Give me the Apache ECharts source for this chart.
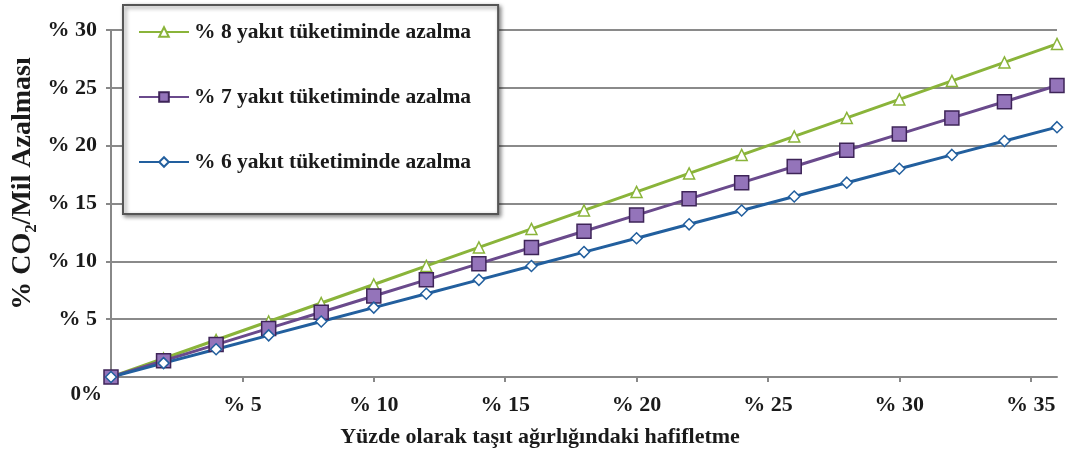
<!DOCTYPE html>
<html>
<head>
<meta charset="utf-8">
<script src="https://cdn.jsdelivr.net/npm/echarts@6/dist/echarts.min.js"></script>
<style>html,body{margin:0;padding:0;background:#fff}#c{width:1072px;height:459px}</style>
</head>
<body>
<div id="c"></div>
<script>
const xValues = [0,2,4,6,8,10,12,14,16,18,20,22,24,26,28,30,32,34,36];
const series8 = [0,1.6,3.2,4.8,6.4,8.0,9.6,11.2,12.8,14.4,16.0,17.6,19.2,20.8,22.4,24.0,25.6,27.2,28.8];
const series7 = [0,1.4,2.8,4.2,5.6,7.0,8.4,9.8,11.2,12.6,14.0,15.4,16.8,18.2,19.6,21.0,22.4,23.8,25.2];
const series6 = [0,1.2,2.4,3.6,4.8,6.0,7.2,8.4,9.6,10.8,12.0,13.2,14.4,15.6,16.8,18.0,19.2,20.4,21.6];
const seriesNames = ['% 8 yakıt tüketiminde azalma','% 7 yakıt tüketiminde azalma','% 6 yakıt tüketiminde azalma'];
const xTicks = [5,10,15,20,25,30,35];
const xTitle = 'Yüzde olarak taşıt ağırlığındaki hafifletme';
const yTitle = '% CO₂/Mil Azalması';

const font = '"Liberation Serif", "Times New Roman", serif';
const pairs = a => xValues.map((x,i)=>[x,a[i]]);

const chart = echarts.init(document.getElementById('c'));
chart.setOption({
  animation:false,
  backgroundColor:'#fff',
  grid:{left:111,right:15,top:30,bottom:82,containLabel:false},
  legend:{
    orient:'vertical', left:123, top:5,
    padding:[15,27,40,15],
    itemGap:41, itemWidth:50, itemHeight:12,
    backgroundColor:'#fff', borderColor:'#555', borderWidth:2,
    shadowColor:'rgba(0,0,0,0.45)', shadowBlur:4, shadowOffsetX:2, shadowOffsetY:2,
    textStyle:{fontFamily:font,fontWeight:'bold',fontSize:21.5,color:'#1a1a1a',lineHeight:24},
    data:seriesNames
  },
  xAxis:{
    type:'value', min:0, max:36, interval:5,
    name:xTitle, nameLocation:'middle', nameGap:49,
    nameTextStyle:{fontFamily:font,fontWeight:'bold',fontSize:22,color:'#1a1a1a',padding:[0,88,0,0]},
    axisLine:{lineStyle:{color:'#888',width:2}},
    axisTick:{show:true,length:5,lineStyle:{color:'#888',width:2},customValues:xTicks},
    axisLabel:{customValues:xTicks,margin:17,fontFamily:font,fontWeight:'bold',fontSize:22,color:'#1a1a1a',formatter:v=>'% '+v},
    splitLine:{show:false}
  },
  yAxis:{
    type:'value', min:0, max:30, interval:5,
    name:yTitle, nameLocation:'middle', nameGap:67, nameRotate:90,
    nameTextStyle:{fontFamily:font,fontWeight:'bold',fontSize:28,color:'#1a1a1a',padding:[0,0,0,40]},
    axisLine:{show:true,lineStyle:{color:'#888',width:2}},
    axisTick:{show:true,length:5,lineStyle:{color:'#888',width:2}},
    axisLabel:{margin:9,fontFamily:font,fontWeight:'bold',fontSize:22,color:'#1a1a1a',
      formatter:v=> v===0 ? '{z|0%}' : '{a|% '+v+'}',
      rich:{
        a:{fontFamily:font,fontWeight:'bold',fontSize:22,color:'#1a1a1a',padding:[0,5,0,0]},
        z:{fontFamily:font,fontWeight:'bold',fontSize:21,color:'#1a1a1a',padding:[36,0,0,0]}
      }},
    splitLine:{show:true,lineStyle:{color:'#8a8a8a',width:2}}
  },
  series:[
    {name:seriesNames[0],type:'line',data:pairs(series8),symbol:'triangle',symbolSize:11,
      lineStyle:{color:'#8ab43a',width:3},itemStyle:{color:'#fff',borderColor:'#8ab43a',borderWidth:1.5}},
    {name:seriesNames[1],type:'line',data:pairs(series7),symbol:'rect',symbolSize:14,
      lineStyle:{color:'#6a4a8c',width:3},itemStyle:{color:'#9474ba',borderColor:'#3e2458',borderWidth:1.5}},
    {name:seriesNames[2],type:'line',data:pairs(series6),symbol:'diamond',symbolSize:11,
      lineStyle:{color:'#225f9e',width:3},itemStyle:{color:'#fff',borderColor:'#225f9e',borderWidth:1.5}}
  ]
});
</script>
</body>
</html>
